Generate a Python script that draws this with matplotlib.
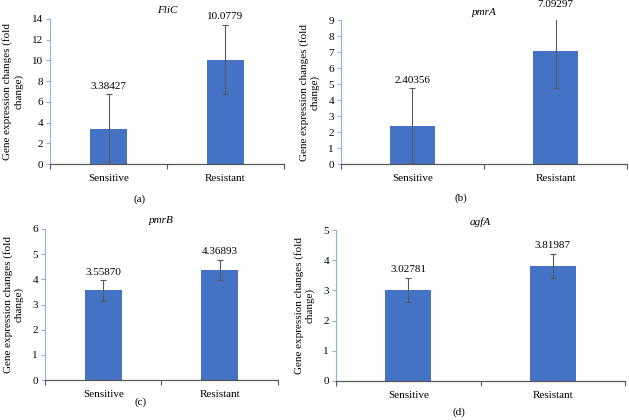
import numpy as np
import matplotlib
matplotlib.use('Agg')
from matplotlib import pyplot as plt

plt.rcParams['font.family'] = ['Liberation Serif', 'DejaVu Serif']
FS = 8

# --- Datos ---
groups = ['Sensitive', 'Resistant']
genes = ['FliC', 'pmrA', 'pmrB', 'agfA']
panel_tags = ['(a)', '(b)', '(c)', '(d)']
means = {
    'FliC': [3.38427, 10.0779],
    'pmrA': [2.40356, 7.09297],
    'pmrB': [3.55870, 4.36893],
    'agfA': [3.02781, 3.81987],
}
errors = {
    'FliC': [3.37, 3.35],
    'pmrA': [2.35, 2.36],
    'pmrB': [0.41, 0.41],
    'agfA': [0.40, 0.40],
}
labels = {
    'FliC': ['3.38427', '10.0779'],
    'pmrA': ['2.40356', '7.09297'],
    'pmrB': ['3.55870', '4.36893'],
    'agfA': ['3.02781', '3.81987'],
}
ymax = {'FliC': 14, 'pmrA': 9, 'pmrB': 6, 'agfA': 5}
ystep = {'FliC': 2, 'pmrA': 1, 'pmrB': 1, 'agfA': 1}

# posiciones de cada panel en fracción de figura
boxes = [
    [0.0795, 0.6095, 0.372, 0.3455],
    [0.542, 0.6095, 0.455, 0.3425],
    [0.0715, 0.095, 0.3705, 0.36],
    [0.534, 0.093, 0.46, 0.359],
]
tag_xy = [(0.222, 0.526), (0.732, 0.529), (0.224, 0.043), (0.730, 0.019)]

fig = plt.figure(figsize=(6.29, 4.20), dpi=100)

for gene, box, tag, (tx, ty) in zip(genes, boxes, panel_tags, tag_xy):
    ax = fig.add_axes(box)
    x = np.arange(len(groups))
    ax.bar(x, means[gene], width=0.32, color='#4472C4', zorder=2)
    ax.errorbar(x, means[gene], yerr=errors[gene], fmt='none',
                ecolor='#595959', elinewidth=0.8, capsize=2, capthick=0.8, zorder=3)
    for xi, m, e, lab in zip(x, means[gene], errors[gene], labels[gene]):
        ax.annotate(lab, (xi, m + e), xytext=(0, 2.5), textcoords='offset points',
                    ha='center', va='bottom', fontsize=FS, annotation_clip=False)
    ax.set_xlim(-0.5, 1.5)
    ax.set_ylim(0, ymax[gene])
    ax.set_yticks(np.arange(0, ymax[gene] + 0.1, ystep[gene]))
    ax.set_xticks(x)
    ax.set_xticklabels(groups, fontsize=FS)
    ax.set_xticks([-0.5, 0.5, 1.5], minor=True)
    ax.tick_params(axis='x', which='major', length=0, pad=7)
    ax.tick_params(axis='x', which='minor', length=3.5, color='#595959', width=0.8)
    ax.tick_params(axis='y', length=3, color='#8EB4E3', width=0.8, labelsize=FS, pad=2)
    ax.spines['top'].set_visible(False)
    ax.spines['right'].set_visible(False)
    ax.spines['left'].set_color('#8EB4E3')
    ax.spines['bottom'].set_color('#595959')
    ax.spines['bottom'].set_linewidth(0.9)
    ax.set_ylabel('Gene expression changes (fold\nchange)', fontsize=FS, labelpad=6)
    ax.set_title(gene, fontsize=FS, style='italic', pad=4)
    fig.text(tx, ty, tag, ha='center', va='center', fontsize=FS)

fig.savefig('out.png', dpi=100)
